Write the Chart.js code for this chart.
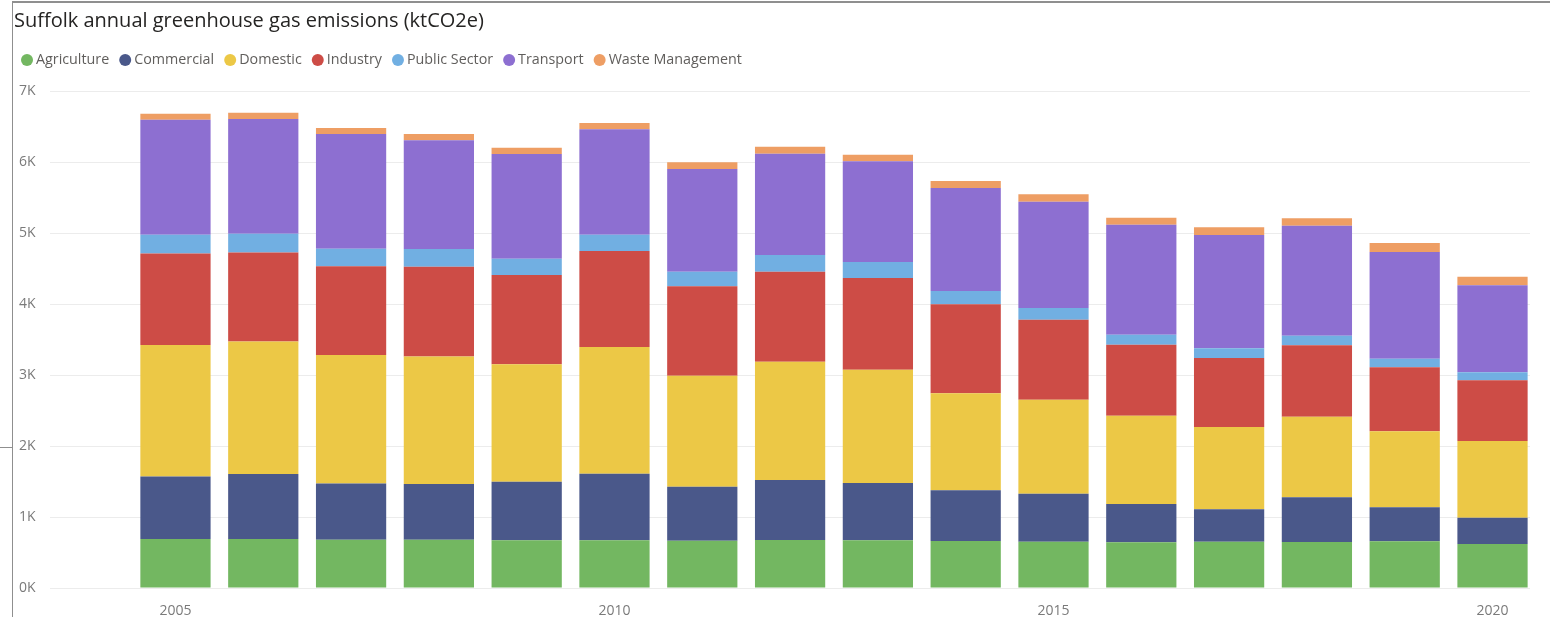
<!DOCTYPE html>
<html>
<head>
<meta charset="utf-8">
<script src="https://cdn.jsdelivr.net/npm/chart.js@4.4.0/dist/chart.umd.min.js"></script>
<style>
  html, body { margin: 0; padding: 0; background: #fff; }
  canvas { display: block; }
</style>
</head>
<body>
<canvas id="emissionsChart" width="1550" height="617"></canvas>
<script>
const chartTitle = 'Suffolk annual greenhouse gas emissions (ktCO2e)';
const years = [2005, 2006, 2007, 2008, 2009, 2010, 2011, 2012, 2013, 2014, 2015, 2016, 2017, 2018, 2019, 2020];
const tickYears = [2005, 2010, 2015, 2020];
const yTicks = [0, 1000, 2000, 3000, 4000, 5000, 6000, 7000];

// ktCO2e per sector
const agriculture = [689, 689, 680, 680, 671, 671, 667, 676, 671, 662, 653, 643, 653, 648, 657, 620];
const commercial = [883, 917, 791, 786, 827, 939, 760, 845, 808, 714, 676, 540, 455, 629, 479, 371];
const domestic = [1851, 1866, 1812, 1793, 1652, 1784, 1564, 1667, 1596, 1366, 1324, 1244, 1160, 1136, 1071, 1079];
const industry = [1288, 1253, 1249, 1264, 1258, 1352, 1258, 1267, 1291, 1253, 1126, 1000, 971, 1005, 901, 855];
const publicSector = [265, 265, 246, 250, 230, 231, 206, 235, 226, 188, 165, 141, 137, 136, 122, 113];
const transport = [1620, 1616, 1616, 1534, 1475, 1483, 1446, 1427, 1417, 1451, 1497, 1549, 1596, 1549, 1502, 1225];
const wasteManagement = [82, 86, 86, 86, 89, 89, 94, 99, 94, 98, 104, 99, 108, 104, 127, 122];

const series = [
    { label: 'Agriculture', data: agriculture, color: '#73B761' },
    { label: 'Commercial', data: commercial, color: '#4A588A' },
    { label: 'Domestic', data: domestic, color: '#ECC846' },
    { label: 'Industry', data: industry, color: '#CD4C46' },
    { label: 'Public Sector', data: publicSector, color: '#71AFE2' },
    { label: 'Transport', data: transport, color: '#8D6FD1' },
    { label: 'Waste Management', data: wasteManagement, color: '#EE9E64' }
];

const FONT = '"Open Sans", "Noto Sans", sans-serif';

// visual frame, title and legend drawn above the plot area
const headerPlugin = {
    id: 'header',
    afterDraw(chart) {
        const ctx = chart.ctx;
        ctx.save();

        ctx.strokeStyle = '#8f8f8f';
        ctx.lineWidth = 2;
        ctx.beginPath();
        ctx.moveTo(12, 2);
        ctx.lineTo(chart.width, 2);
        ctx.stroke();
        ctx.lineWidth = 1;
        ctx.beginPath();
        ctx.moveTo(12.5, 1);
        ctx.lineTo(12.5, chart.height);
        ctx.moveTo(0, 447.5);
        ctx.lineTo(12, 447.5);
        ctx.stroke();

        ctx.fillStyle = '#252423';
        ctx.font = `20px ${FONT}`;
        ctx.textBaseline = 'middle';
        ctx.fillText(chartTitle, 14, 21);

        ctx.font = `14.3px ${FONT}`;
        let x = 21;
        const y = 60;
        for (const ds of chart.data.datasets) {
            ctx.fillStyle = ds.backgroundColor;
            ctx.beginPath();
            ctx.arc(x + 6, y, 6, 0, Math.PI * 2);
            ctx.fill();
            ctx.fillStyle = '#605E5C';
            ctx.fillText(ds.label, x + 15, y);
            x += 15 + ctx.measureText(ds.label).width + 10;
        }
        ctx.restore();
    }
};

new Chart(document.getElementById('emissionsChart'), {
    type: 'bar',
    data: {
        labels: years,
        datasets: series.map(s => ({
            label: s.label,
            data: s.data,
            backgroundColor: s.color,
            borderWidth: 0,
            categoryPercentage: 1,
            barPercentage: 0.8
        }))
    },
    options: {
        responsive: false,
        animation: false,
        layout: {
            padding: { top: 91, left: 19, right: 20, bottom: 0 }
        },
        plugins: {
            legend: { display: false },
            title: { display: false },
            tooltip: { enabled: false }
        },
        scales: {
            x: {
                type: 'linear',
                stacked: true,
                offset: false,
                min: 2003.571,
                max: 2020.427,
                afterBuildTicks: (scale) => {
                    scale.ticks = tickYears.map(v => ({ value: v }));
                },
                afterFit: (scale) => {
                    scale.height = 29;
                },
                ticks: {
                    callback: (value) => String(value),
                    color: '#7a7a7a',
                    font: { family: FONT, size: 14 },
                    padding: 7,
                    maxRotation: 0
                },
                grid: { display: false },
                border: { display: false }
            },
            y: {
                stacked: true,
                min: 0,
                max: 7000,
                afterBuildTicks: (scale) => {
                    scale.ticks = yTicks.map(v => ({ value: v }));
                },
                afterFit: (scale) => {
                    scale.width = 31;
                },
                ticks: {
                    callback: (value) => `${value / 1000}K`,
                    color: '#7a7a7a',
                    font: { family: FONT, size: 14 },
                    crossAlign: 'far',
                    padding: 0
                },
                grid: {
                    color: '#ececec',
                    drawTicks: false
                },
                border: { display: false }
            }
        }
    },
    plugins: [headerPlugin]
});
</script>
</body>
</html>
